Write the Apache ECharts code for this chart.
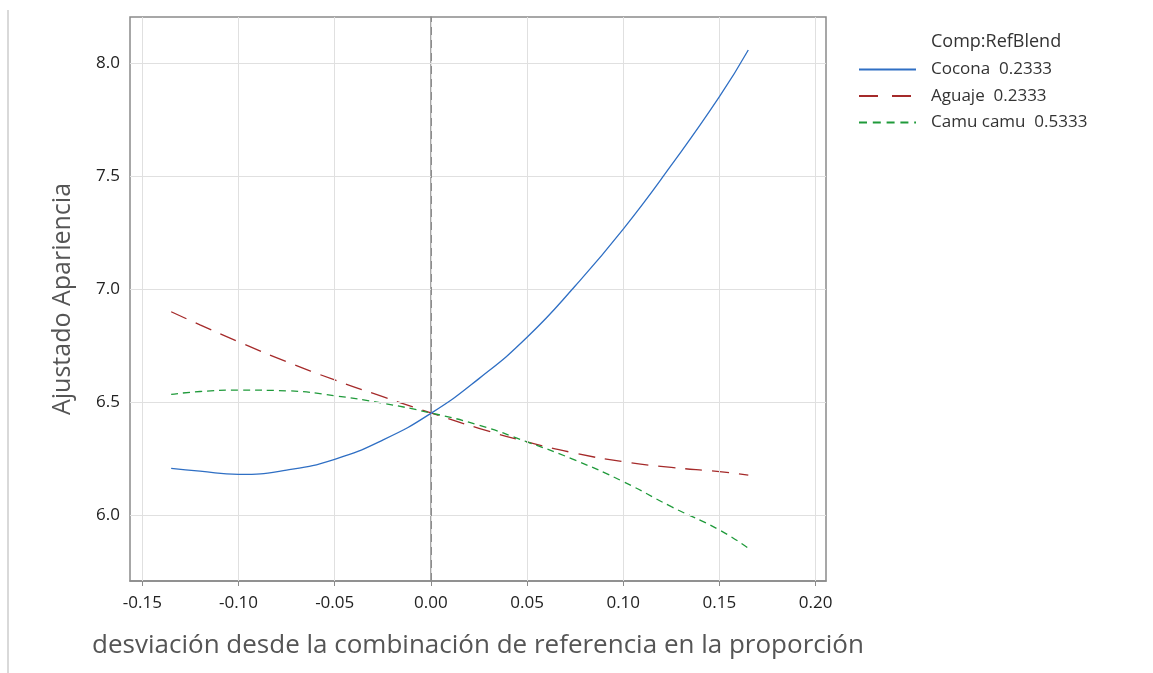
<!DOCTYPE html>
<html>
<head>
<meta charset="utf-8">
<script src="https://cdn.jsdelivr.net/npm/echarts@6/dist/echarts.min.js"></script>
<style>html,body{margin:0;padding:0;background:#fff}#c{width:1153px;height:673px}</style>
</head>
<body>
<div id="c"></div>
<script>
const xValues = [-0.135, -0.12, -0.10, -0.075, -0.05, -0.025, 0, 0.025, 0.05, 0.075, 0.10, 0.125, 0.15, 0.165];
const cocona  = [6.208, 6.195, 6.181, 6.200, 6.248, 6.333, 6.451, 6.605, 6.788, 7.015, 7.267, 7.550, 7.853, 8.060];
const aguaje  = [6.901, 6.843, 6.768, 6.680, 6.599, 6.525, 6.453, 6.385, 6.325, 6.275, 6.237, 6.212, 6.193, 6.178];
const camu    = [6.535, 6.548, 6.554, 6.551, 6.529, 6.496, 6.453, 6.399, 6.325, 6.244, 6.149, 6.038, 5.935, 5.854];
const seriesNames = ['Cocona  0.2333', 'Aguaje  0.2333', 'Camu camu  0.5333'];
const xTicks = [-0.15, -0.10, -0.05, 0.00, 0.05, 0.10, 0.15, 0.20];
const yTicks = [6.0, 6.5, 7.0, 7.5, 8.0];
const xRange = [-0.1564, 0.2054];
const yRange = [5.709, 8.206];

const FONT = 'Open Sans';
const pairs = arr => xValues.map((x, i) => [x, arr[i]]);
const gridLineStyle = {color: '#e0e0e0', width: 1, type: 'solid'};
const colors = ['#2f6fc4', '#a52a2a', '#1f9a3a'];
const dashes = ['solid', [17, 10], [7, 5]];
const legendDashes = ['solid', [19, 14], [8, 5.8]];

const chart = echarts.init(document.getElementById('c'), null, {renderer: 'canvas'});
chart.setOption({
  animation: false,
  backgroundColor: '#fff',
  title: {
    text: 'Comp:RefBlend', left: 926, top: 28,
    textStyle: {fontFamily: FONT, fontSize: 18, fontWeight: 'normal', color: '#333'}
  },
  legend: {
    orient: 'vertical', left: 853, top: 56,
    itemWidth: 57, itemHeight: 16, itemGap: 9.5,
    data: seriesNames.map((n, i) => ({name: n, lineStyle: {type: legendDashes[i], width: 2, color: colors[i]}})),
    lineStyle: {width: 2},
    itemStyle: {opacity: 0},
    textStyle: {fontFamily: FONT, fontSize: 17, color: '#333', padding: [0, 0, 0, 10]}
  },
  graphic: [{
    type: 'line', shape: {x1: 8, y1: 10, x2: 8, y2: 673},
    style: {stroke: '#d9d9d9', lineWidth: 2}
  }],
  grid: {left: 130, right: 327, top: 17, bottom: 92, show: true, borderColor: '#8a8a8a', borderWidth: 1.5},
  xAxis: {
    type: 'value', min: xRange[0], max: xRange[1],
    name: 'desviación desde la combinación de referencia en la proporción',
    nameLocation: 'middle', nameGap: 52,
    nameTextStyle: {fontFamily: FONT, fontSize: 26, color: '#555'},
    axisLine: {show: true, lineStyle: {color: '#8a8a8a', width: 1.5}},
    axisTick: {show: true, length: 5, customValues: xTicks, lineStyle: {color: '#8a8a8a'}},
    axisLabel: {customValues: xTicks, fontFamily: FONT, fontSize: 17, color: '#222', margin: 14,
      formatter: v => v.toFixed(2)},
    splitLine: {show: false}
  },
  yAxis: {
    type: 'value', min: yRange[0], max: yRange[1],
    name: 'Ajustado Apariencia',
    nameLocation: 'middle', nameGap: 55, nameRotate: 90,
    nameTextStyle: {fontFamily: FONT, fontSize: 25, color: '#555'},
    axisLine: {show: true, lineStyle: {color: '#8a8a8a', width: 1.5}},
    axisTick: {show: true, length: 5, customValues: yTicks, lineStyle: {color: '#8a8a8a'}},
    axisLabel: {customValues: yTicks, fontFamily: FONT, fontSize: 17, color: '#222', margin: 10,
      formatter: v => v.toFixed(1)},
    splitLine: {show: false}
  },
  series: [
    {
      name: '_grid', type: 'line', data: [], silent: true, z: 1,
      markLine: {
        silent: true, symbol: 'none', label: {show: false}, animation: false,
        lineStyle: gridLineStyle,
        data: xTicks.map(v => ({xAxis: v})).concat(yTicks.map(v => ({yAxis: v})))
      }
    },
    {
      name: '_zero', type: 'line', data: [], silent: true, z: 2,
      markLine: {
        silent: true, symbol: 'none', label: {show: false}, animation: false,
        lineStyle: {color: '#8c8c8c', width: 1, type: [8, 5]},
        data: [{xAxis: 0}]
      }
    },
    {
      name: seriesNames[0], type: 'line', data: pairs(cocona), smooth: true,
      symbol: 'none', z: 5,
      itemStyle: {color: colors[0]},
      lineStyle: {color: colors[0], width: 1.3, type: dashes[0]}
    },
    {
      name: seriesNames[1], type: 'line', data: pairs(aguaje), smooth: true,
      symbol: 'none', z: 4,
      itemStyle: {color: colors[1]},
      lineStyle: {color: colors[1], width: 1.3, type: dashes[1]}
    },
    {
      name: seriesNames[2], type: 'line', data: pairs(camu), smooth: true,
      symbol: 'none', z: 4,
      itemStyle: {color: colors[2]},
      lineStyle: {color: colors[2], width: 1.3, type: dashes[2]}
    }
  ]
});
</script>
</body>
</html>
